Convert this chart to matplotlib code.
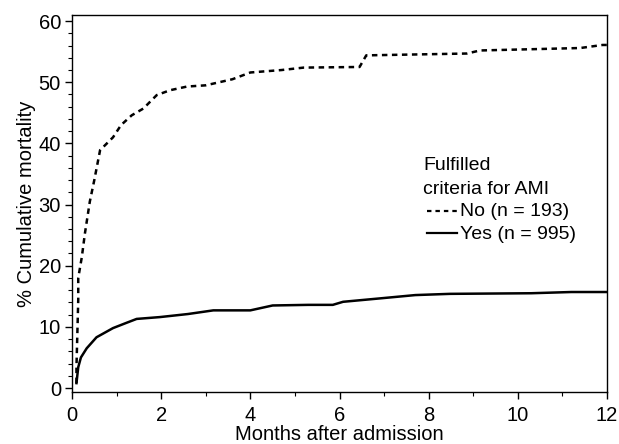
import numpy as np
import matplotlib.pyplot as plt
from matplotlib.ticker import MultipleLocator

plt.rcParams['font.family'] = ['Liberation Sans', 'DejaVu Sans']

# Cumulative mortality (months, %)
months_no = [0.1, 0.1, 0.14, 0.14, 0.22, 0.29, 0.4, 0.5, 0.63, 0.92, 1.1, 1.34, 1.6, 1.9,
             2.2, 2.58, 3.0, 3.6, 4.0, 4.7, 5.2, 6.45, 6.6, 8.86, 9.15, 11.4, 11.9, 12.0]
mort_no = [0.8, 3.4, 14.4, 18.0, 21.4, 25.3, 30.5, 34.0, 38.9, 41.0, 43.0, 44.6, 45.7, 47.9,
           48.7, 49.3, 49.5, 50.5, 51.6, 52.0, 52.4, 52.5, 54.4, 54.7, 55.2, 55.6, 56.1, 56.1]

months_yes = [0.1, 0.14, 0.2, 0.33, 0.55, 0.92, 1.2, 1.45, 1.97, 2.6, 3.17, 4.0, 4.5, 5.3,
              5.85, 6.08, 6.97, 7.7, 8.48, 10.3, 11.2, 12.0]
mort_yes = [0.8, 3.4, 5.0, 6.5, 8.3, 9.8, 10.6, 11.3, 11.6, 12.1, 12.7, 12.7, 13.5, 13.6,
            13.6, 14.1, 14.7, 15.2, 15.4, 15.5, 15.7, 15.7]

labels = ['No (n = 193)', 'Yes (n = 995)']

fig = plt.figure(figsize=(6.19, 4.44), dpi=100)
ax = fig.add_axes([72 / 619, 1 - 392 / 444, 535 / 619, 377 / 444])

ax.plot(months_no, mort_no, color='black', lw=1.8, ls=(0, (2.2, 1.8)))
ax.plot(months_yes, mort_yes, color='black', lw=1.8)

ax.set_xlim(0, 12)
ax.set_ylim(-0.65, 61)
ax.xaxis.set_major_locator(MultipleLocator(2))
ax.xaxis.set_minor_locator(MultipleLocator(1))
ax.yaxis.set_major_locator(MultipleLocator(10))
ax.yaxis.set_minor_locator(MultipleLocator(2))
ax.tick_params(which='major', length=5, width=1, labelsize=14.5)
ax.tick_params(axis='x', which='major', pad=5)
ax.tick_params(axis='y', which='major', pad=3)
ax.tick_params(which='minor', length=3, width=0.8)
for s in ax.spines.values():
    s.set_linewidth(1)

ax.set_xlabel('Months after admission', fontsize=14.5, labelpad=0)
ax.set_ylabel('% Cumulative mortality', fontsize=14.5, labelpad=2)

# legend drawn as text block
ax.text(0.656, 0.602, 'Fulfilled', transform=ax.transAxes, fontsize=14, va='center')
ax.text(0.656, 0.538, 'criteria for AMI', transform=ax.transAxes, fontsize=14, va='center')
ax.plot([0.664, 0.720], [0.480, 0.480], transform=ax.transAxes, color='black',
        lw=1.6, ls=(0, (2.0, 1.8)))
ax.text(0.725, 0.480, labels[0], transform=ax.transAxes, fontsize=14, va='center')
ax.plot([0.664, 0.720], [0.421, 0.421], transform=ax.transAxes, color='black', lw=1.6)
ax.text(0.725, 0.419, labels[1], transform=ax.transAxes, fontsize=14, va='center')

fig.savefig('out.png', dpi=100)
